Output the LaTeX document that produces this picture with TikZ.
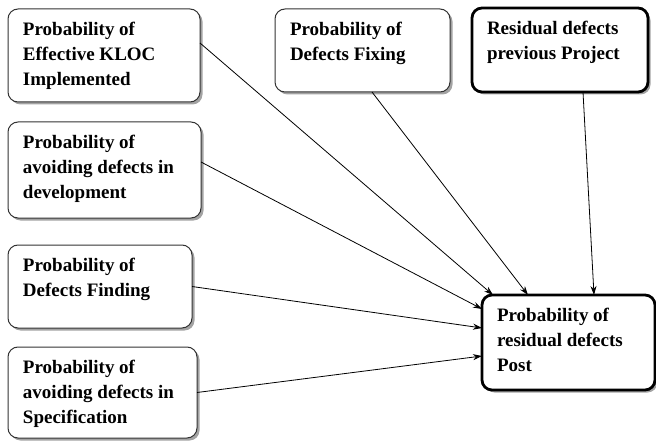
\documentclass[tikz,border=0pt]{standalone}
\usepackage{fontspec}
\setmainfont{Liberation Serif}
\usetikzlibrary{calc, shadows, arrows.meta}
\newcommand{\boxlines}[3]{\parbox[t][#2pt][t]{#1pt}{\raggedright #3}}

\begin{document}
\begin{tikzpicture}[x=1pt, y=1pt,
  card/.style={draw=black!80, line width=1pt, rounded corners=10pt, fill=white,
    drop shadow={shadow xshift=2.5pt, shadow yshift=-2.5pt, fill=black!60, opacity=0.6},
    inner xsep=15pt, inner ysep=13pt, outer sep=0pt, anchor=north west,
    font=\fontsize{19}{25}\selectfont\bfseries},
  heavy/.style={card, draw=black, line width=2.8pt},
  link/.style={-{Stealth[length=9pt, width=6pt]}, line width=0.8pt}]
\useasboundingbox (0,0) rectangle (656,-441);
% input boxes
\node[card] (kloc) at (8,-9) {\boxlines{162}{67}{Probability of\\Effective KLOC\\Implemented}};
\node[card] (dev) at (8,-122) {\boxlines{163}{70}{Probability of\\avoiding defects in\\development}};
\node[card] (find) at (8,-245) {\boxlines{154}{57}{Probability of\\Defects Finding}};
\node[card] (spec) at (8,-347) {\boxlines{159}{65}{Probability of\\avoiding defects in\\Specification}};
\node[card] (fixing) at (275,-9) {\boxlines{145}{57}{Probability of\\Defects Fixing}};
\node[heavy] (prev) at (472,-8) {\boxlines{146}{58}{Residual defects\\previous Project}};
% result box
\node[heavy] (post) at (482,-295) {\boxlines{143}{69}{Probability of\\residual defects\\Post}};
% links
\draw[link] ([yshift=12.5]kloc.east) -- ($(post.north west)+(11,0)$);
\draw[link] ([yshift=8]dev.east) -- ($(post.north west)+(0,-14)$);
\draw[link] ([xshift=9.5]fixing.south) -- ($(post.north west)+(46,0)$);
\draw[link] (find.east) -- ($(post.north west)+(0,-33)$);
\draw[link] (spec.east) -- ($(post.north west)+(0,-61)$);
\draw[link] ([xshift=23]prev.south) -- ($(post.north west)+(112,0)$);
\end{tikzpicture}
\end{document}
